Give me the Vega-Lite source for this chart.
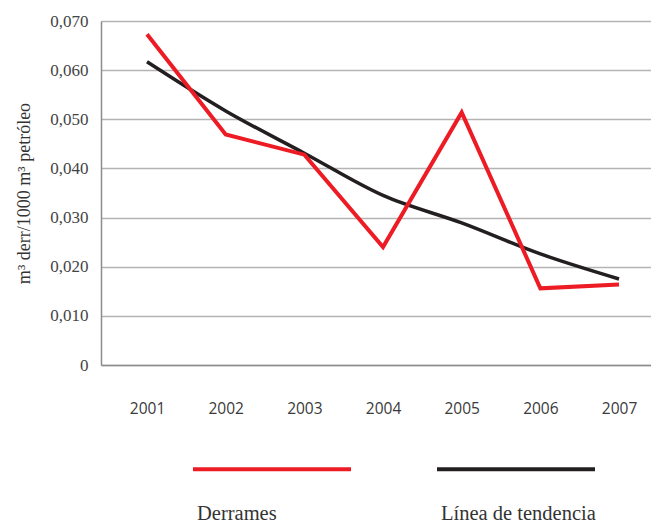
{
  "$schema": "https://vega.github.io/schema/vega-lite/v6.json",
  "width": 550,
  "height": 344,
  "autosize": "none",
  "padding": {"left": 101, "top": 21, "right": 0, "bottom": 159},
  "background": "white",
  "config": {
    "view": {"stroke": null},
    "legend": {"padding": 0}
  },
  "data": {
    "values": [
      {"anio": "2001", "serie": "Línea de tendencia", "valor": 0.0617},
      {"anio": "2002", "serie": "Línea de tendencia", "valor": 0.0517},
      {"anio": "2003", "serie": "Línea de tendencia", "valor": 0.0431},
      {"anio": "2004", "serie": "Línea de tendencia", "valor": 0.0345},
      {"anio": "2005", "serie": "Línea de tendencia", "valor": 0.0289},
      {"anio": "2006", "serie": "Línea de tendencia", "valor": 0.0226},
      {"anio": "2007", "serie": "Línea de tendencia", "valor": 0.0175},
      {"anio": "2001", "serie": "Derrames", "valor": 0.0673},
      {"anio": "2002", "serie": "Derrames", "valor": 0.0469},
      {"anio": "2003", "serie": "Derrames", "valor": 0.0428},
      {"anio": "2004", "serie": "Derrames", "valor": 0.0240},
      {"anio": "2005", "serie": "Derrames", "valor": 0.0514},
      {"anio": "2006", "serie": "Derrames", "valor": 0.0156},
      {"anio": "2007", "serie": "Derrames", "valor": 0.0164}
    ]
  },
  "encoding": {
    "x": {
      "field": "anio",
      "type": "ordinal",
      "scale": {"type": "point", "padding": 0.4956, "align": 0.59},
      "axis": {
        "title": null,
        "labelAngle": 0,
        "labelFont": "Open Sans",
        "labelFontSize": 15.5,
        "labelColor": "#3a3a3a",
        "labelBaseline": "top",
        "labelPadding": 36,
        "ticks": false,
        "domainColor": "#8c8c8c",
        "domainWidth": 1.5,
        "grid": false
      }
    },
    "y": {
      "field": "valor",
      "type": "quantitative",
      "scale": {"domain": [0, 0.07], "nice": false},
      "axis": {
        "title": "m³ derr/1000 m³ petróleo",
        "titleFont": "Liberation Serif",
        "titleFontSize": 18,
        "titleFontWeight": "normal",
        "titleColor": "#333333",
        "titlePadding": 16,
        "values": [0, 0.01, 0.02, 0.03, 0.04, 0.05, 0.06, 0.07],
        "labelExpr": "datum.value == 0 ? '0' : replace(format(datum.value, '.3f'), '.', ',')",
        "labelFont": "Liberation Serif",
        "labelFontSize": 17,
        "labelColor": "#444444",
        "labelPadding": 13,
        "ticks": false,
        "domainColor": "#8c8c8c",
        "domainWidth": 1.5,
        "gridColor": "#b4b4b4",
        "gridWidth": 1.5
      }
    },
    "color": {
      "field": "serie",
      "type": "nominal",
      "scale": {"domain": ["Derrames", "Línea de tendencia"], "range": ["#ed1c24", "#231f20"]},
      "legend": {
        "title": null,
        "orient": "none",
        "legendX": 90,
        "legendY": 367,
        "direction": "horizontal",
        "columns": 2,
        "columnPadding": 70,
        "symbolType": "stroke",
        "symbolSize": 24964,
        "symbolStrokeWidth": 4,
        "labelFont": "Liberation Serif",
        "labelFontSize": 20.5,
        "labelColor": "#333333",
        "labelOffset": 0,
        "encode": {
          "labels": {"update": {"dx": {"value": -156}, "dy": {"value": 45}}}
        }
      }
    }
  },
  "layer": [
    {
      "transform": [{"filter": "datum.serie == 'Línea de tendencia'"}],
      "mark": {"type": "line", "strokeWidth": 3.5, "interpolate": "monotone"}
    },
    {
      "transform": [{"filter": "datum.serie == 'Derrames'"}],
      "mark": {"type": "line", "strokeWidth": 4}
    }
  ]
}
